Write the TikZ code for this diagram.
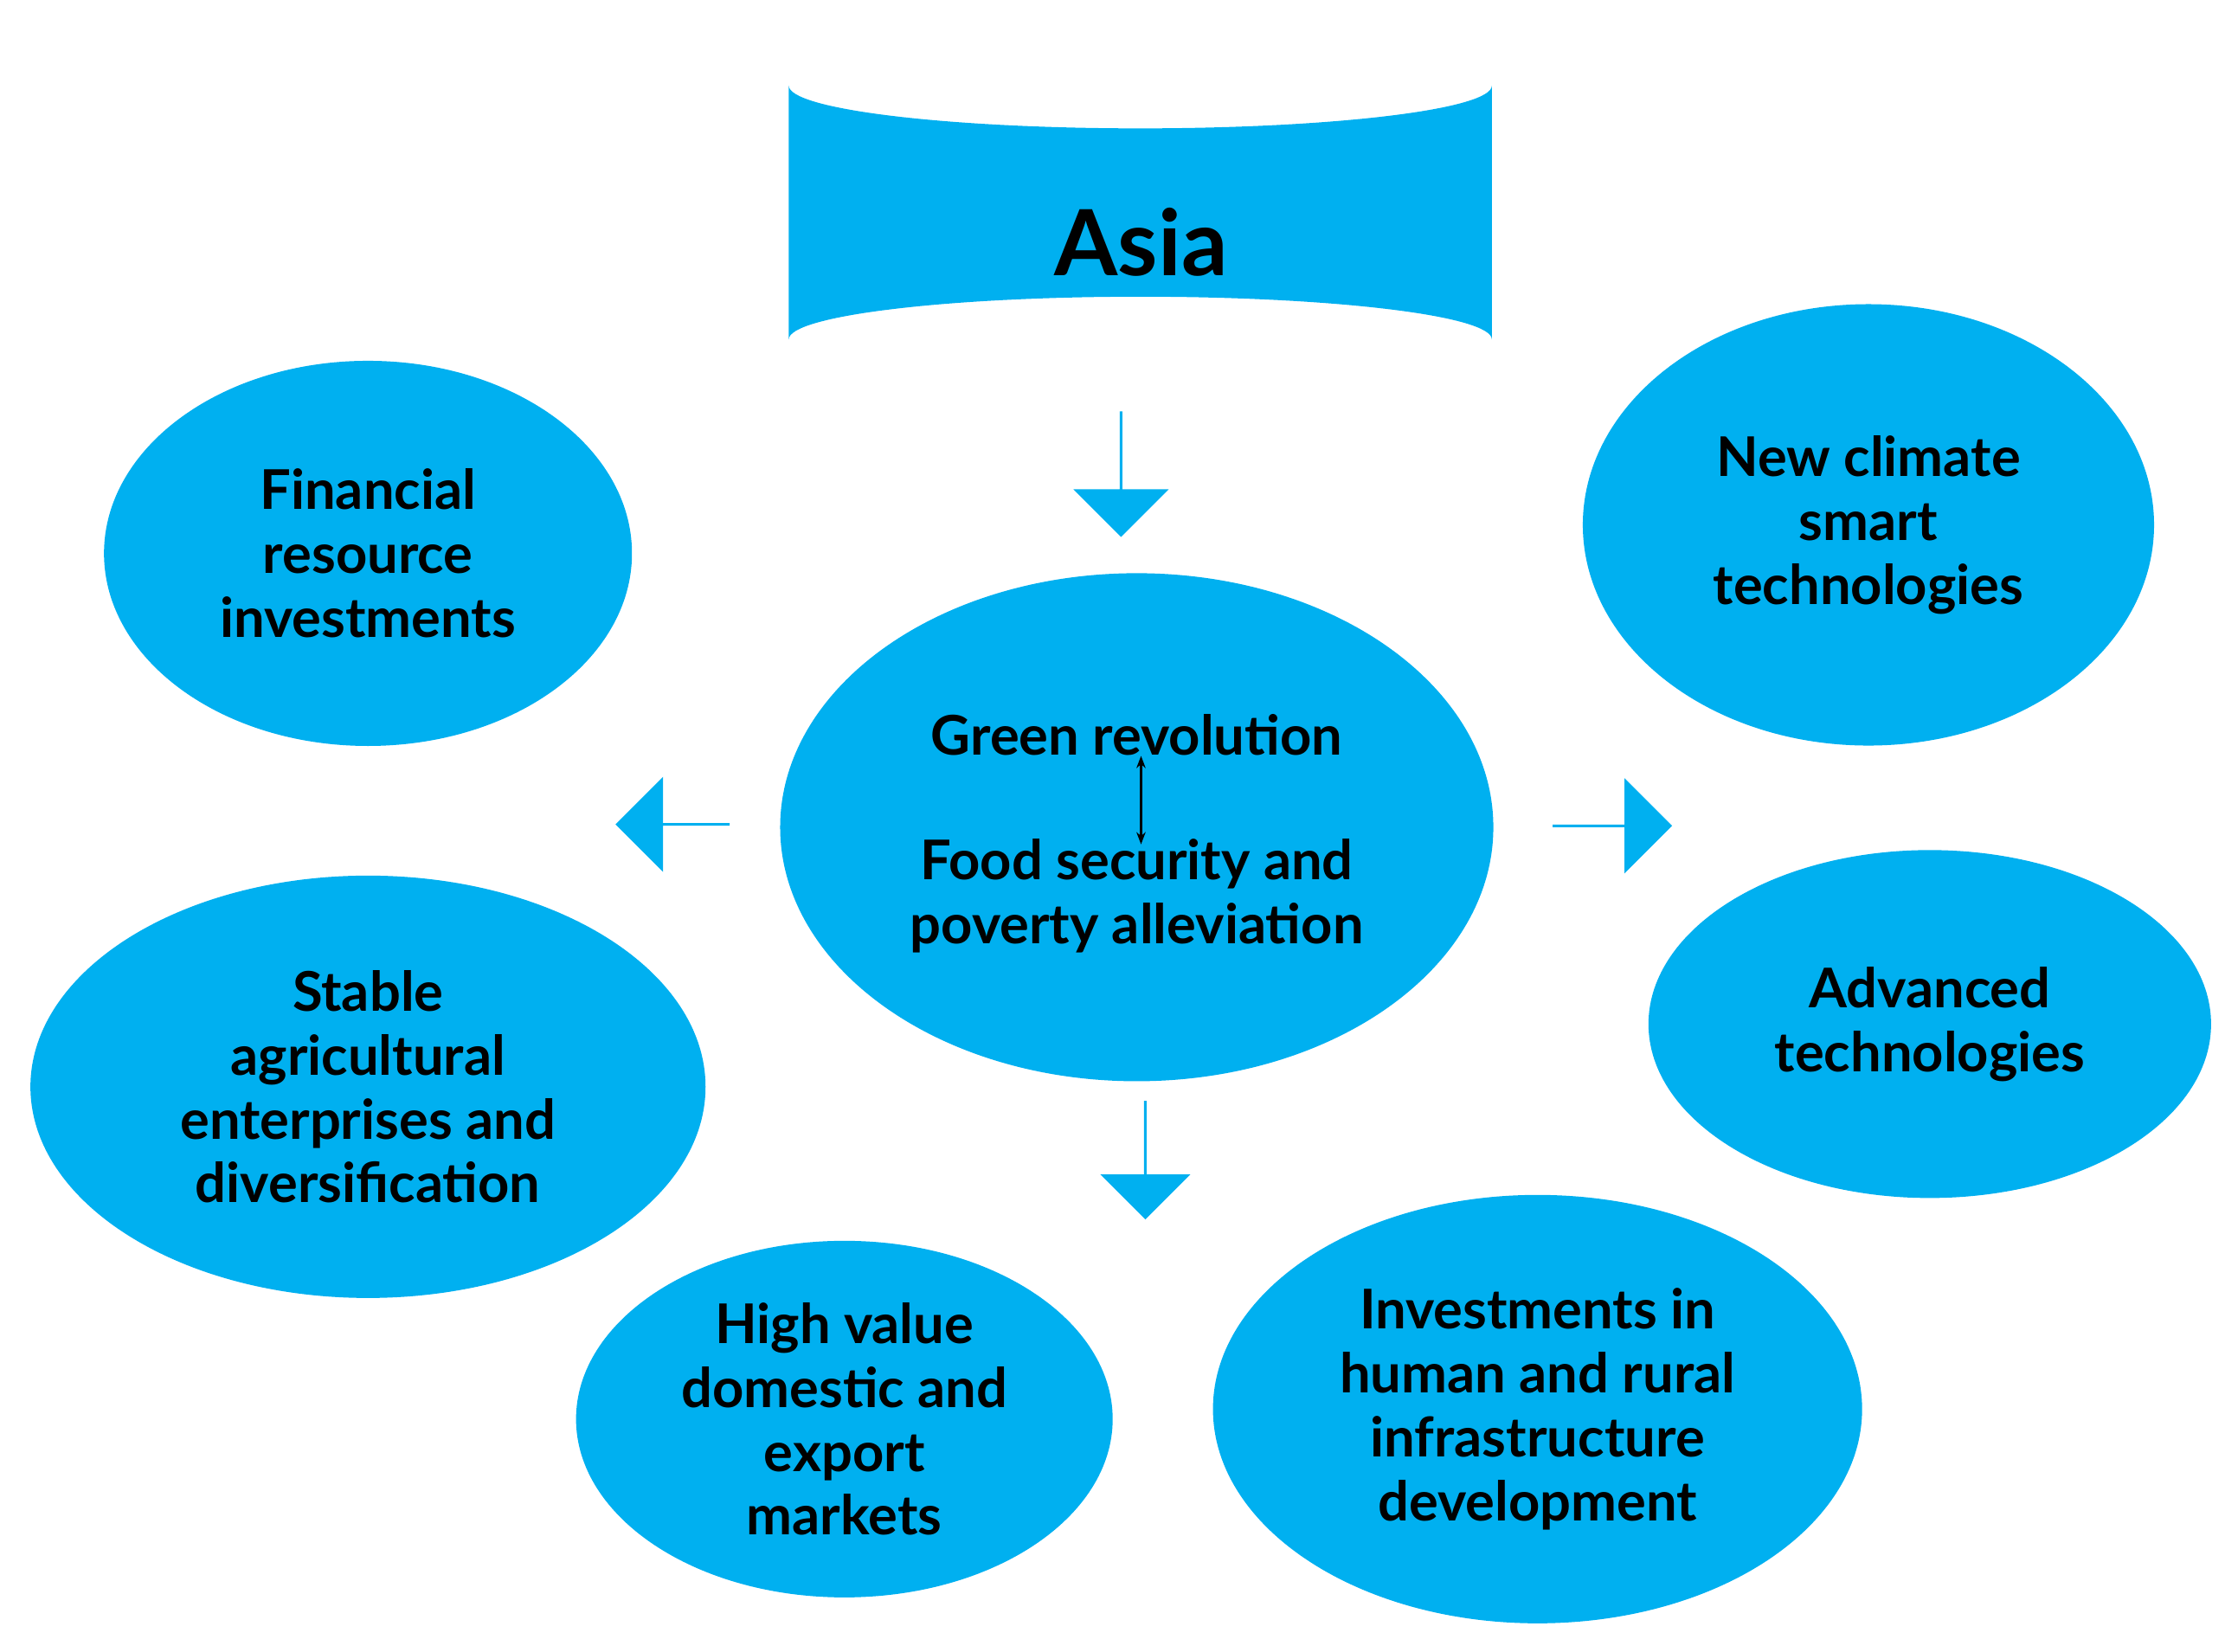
\documentclass[tikz,border=0pt]{standalone}
\usepackage{fontspec}
\setmainfont{Lato}
\usetikzlibrary{shapes.geometric, shapes.arrows, arrows.meta}
\definecolor{skyblue}{HTML}{00B0F0}

\begin{document}
\begin{tikzpicture} [x=0.01648cm, y=-0.01648cm,
every node/.style={font=\bfseries\fontsize{18}{21}\selectfont, align=center},
blob/.style={ellipse, fill=skyblue, inner sep=0pt},
blockarrow/.style={single arrow, fill=skyblue, inner sep=0pt, single arrow head extend=0.25cm, minimum height=1.45cm, minimum width=1.1cm}]
\useasboundingbox (0,0) rectangle (1560,1158);

% top cylinder
\fill[skyblue] (553,60) -- (553,238) arc[x radius=246.5, y radius=30, start angle=180, end angle=360]
 -- (1046,60) arc[x radius=246.5, y radius=30, start angle=0, end angle=180] -- cycle;
\node (asia) at (800,170) {\fontsize{30}{34}\selectfont Asia};

% ellipses
\node (core) [blob, minimum width=500\pgflinewidth, minimum width=8.24cm, minimum height=5.87cm] at (797,580) {};
\node (fin) [blob, minimum width=6.1cm, minimum height=4.45cm] at (258,388) {Financial\\resource\\investments};
\node (clim) [blob, minimum width=6.6cm, minimum height=5.1cm] at (1310,368) {New climate\\smart\\technologies};
\node (stab) [blob, minimum width=7.8cm, minimum height=4.88cm] at (258,762) {Stable\\agricultural\\enterprises and\\diversification};
\node (adv) [blob, minimum width=6.5cm, minimum height=4.02cm] at (1353,718) {Advanced\\technologies};
\node (high) [blob, minimum width=6.2cm, minimum height=4.12cm] at (592,995) {High value\\domestic and\\export\\markets};
\node (inv) [blob, minimum width=7.5cm, minimum height=4.95cm] at (1078,988) {Investments in\\human and rural\\infrastructure\\development};

% texts in the core
\node (green) at (797,515) {Green revolution};
\node (food) at (797,628) {Food security and\\poverty alleviation};
\coordinate (gtop) at (800,530);
\coordinate (fbot) at (800,592);
\draw[{Stealth[length=4pt]}-{Stealth[length=4pt]}, thick] (gtop) -- (fbot);

% block arrows
\node (adown) [blockarrow, shape border rotate=270] at (786,332) {};
\node (aleft) [blockarrow, shape border rotate=180, minimum height=1.32cm] at (472,578) {};
\node (aright) [blockarrow, minimum height=1.38cm] at (1130,579) {};
\node (abot) [blockarrow, shape border rotate=270, minimum height=1.37cm, minimum width=1.04cm] at (803,813) {};
\end{tikzpicture}
\end{document}
